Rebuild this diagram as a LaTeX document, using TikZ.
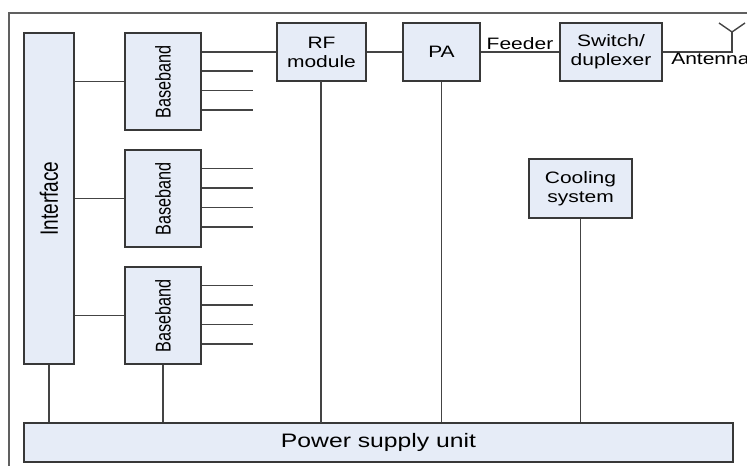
\documentclass[tikz,border=0pt]{standalone}
\usepackage{fontspec}
\setmainfont[FakeStretch=1.27]{Liberation Sans}
\newfontfamily\rotfont[FakeStretch=0.76]{Liberation Sans}
\definecolor{boxfill}{HTML}{E6ECF7}
\definecolor{boxline}{HTML}{383838}
\definecolor{wire}{HTML}{444444}
\tikzset{
  box/.style={draw=boxline, fill=boxfill, line width=1.2pt, inner sep=0pt,
    align=center, font=\fontsize{12.4}{14.3}\selectfont},
  wire/.style={draw=wire, line width=1.05pt},
  frame/.style={draw=wire!85, line width=1.2pt},
  lbl/.style={inner sep=0pt, font=\fontsize{12.4}{14.3}\selectfont},
  bbbox/.style={box, minimum width=57pt, minimum height=72.75pt},
}
\newcommand{\vtext}[2]{\rotatebox{90}{\rotfont\fontsize{#1}{#1}\selectfont #2}}
\begin{document}
\begin{tikzpicture}[x=0.75pt, y=-0.75pt]
\useasboundingbox (0,0) rectangle (747,466);

% enclosing frame
\draw[frame] (9,466) -- (9,13) -- (747,13);

% blocks
\node[box, minimum width=37.5pt, minimum height=248.25pt] (iface) at (49,198.5) {\vtext{18.8}{Interface}};
\node[bbbox] (bb1) at (163,81.5) {\vtext{16}{Baseband}};
\node[bbbox] (bb2) at (163,198.5) {\vtext{16}{Baseband}};
\node[bbbox] (bb3) at (163,315.5) {\vtext{16}{Baseband}};
\node[box, minimum width=66.75pt, minimum height=43.5pt] (rf) at (321.5,52) {RF\\module};
\node[box, minimum width=57.75pt, minimum height=43.5pt] (pa) at (441.5,52) {PA};
\node[box, minimum width=76.5pt, minimum height=43.5pt] (sw) at (611,52) {Switch/\\duplexer};
\node[box, minimum width=77.25pt, minimum height=44.25pt] (cool) at (580.5,188.5) {Cooling\\system};
\node[box, minimum width=531.75pt, minimum height=29.25pt,
      font=\fontsize{14.6}{17}\selectfont] (psu) at (378.5,442.5) {Power supply unit};

% interface to baseband links
\foreach \b in {bb1,bb2,bb3}
  \draw[wire] (iface.east |- \b.west) -- (\b.west);

% baseband output stubs
\foreach \b in {bb2,bb3}
  \foreach \k in {1,...,4}
    \draw[wire] (\b.north east) ++(0,19.5*\k) -- ++(51,0);
\foreach \k in {2,...,4}
  \draw[wire] (bb1.north east) ++(0,19.5*\k) -- ++(51,0);

% RF chain
\draw[wire] (rf.west -| bb1.east) -- (rf.west);
\draw[wire] (rf.east) -- (pa.west);
\draw[wire] (pa.east) -- (sw.west);
\node[lbl, anchor=base] (feeder) at (520,49.5) {Feeder};

% antenna
\coordinate (antbase) at (732,52);
\coordinate (anttop) at (732,32);
\coordinate (armL) at (719,23);
\coordinate (armR) at (745,23);
\draw[wire] (sw.east) -- (antbase) -- (anttop);
\draw[wire] (armL) -- (anttop) -- (armR);
\node[lbl, anchor=base west] (antenna) at (671,65) {Antenna};

% power distribution
\draw[wire] (iface.south) -- (iface.south |- psu.north);
\draw[wire] (bb3.south) -- (bb3.south |- psu.north);
\draw[wire] (321,81) -- (321,423);
\draw[wire] (pa.south) -- (pa.south |- psu.north);
\draw[wire] (cool.south) -- (cool.south |- psu.north);
\end{tikzpicture}
\end{document}
